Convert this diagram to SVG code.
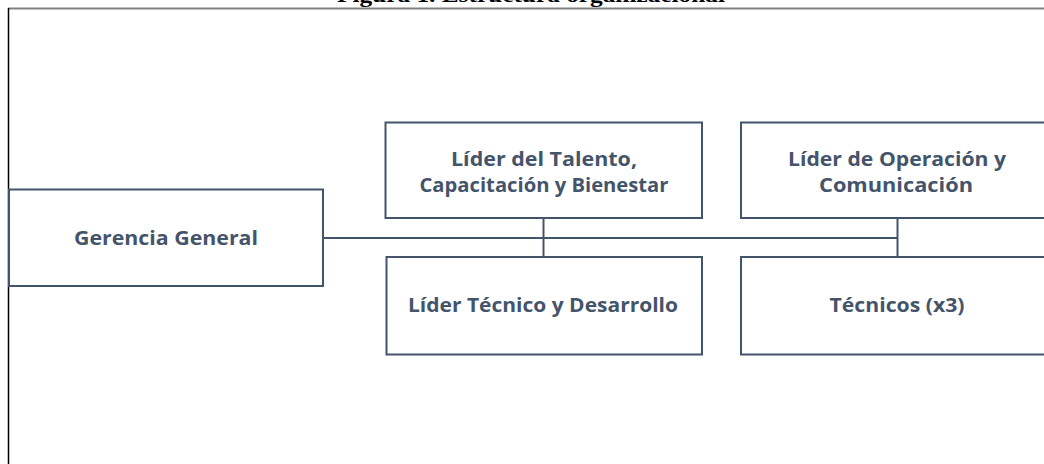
<svg xmlns="http://www.w3.org/2000/svg" width="1044" height="464" viewBox="0 0 1044 464">
<style>
.box{fill:#ffffff;stroke:#44546A;stroke-width:2}
.lbl{font-family:"Open Sans","Liberation Sans",sans-serif;font-weight:700;font-size:19px;fill:#44546A;text-anchor:middle}
.conn{stroke:#44546A;stroke-width:2;fill:none}
.title{font-family:"Liberation Serif",serif;font-weight:700;font-size:20px;fill:#000}
</style>
<rect width="1044" height="464" fill="#ffffff"/>
<text class="title" x="337" y="2" textLength="388" lengthAdjust="spacingAndGlyphs">Figura 1. Estructura organizacional</text>
<line x1="8" y1="8.5" x2="1044" y2="8.5" stroke="#808080" stroke-width="2"/>
<line x1="8.5" y1="8" x2="8.5" y2="464" stroke="#000000" stroke-width="1.5"/>
<g id="connectors">
<line class="conn" x1="323" y1="238" x2="898" y2="238"/>
<line class="conn" x1="543.5" y1="218" x2="543.5" y2="257"/>
<line class="conn" x1="897.5" y1="218" x2="897.5" y2="257"/>
</g>
<g id="gerencia">
<rect class="box" x="9" y="189.5" width="314" height="96.5"/>
<text class="lbl" x="166" y="245" textLength="184" lengthAdjust="spacingAndGlyphs">Gerencia General</text>
</g>
<g id="lider-talento">
<rect class="box" x="385.5" y="122.5" width="316.5" height="95.5"/>
<text class="lbl" x="544" y="165.5" textLength="186" lengthAdjust="spacingAndGlyphs">Líder del Talento,</text>
<text class="lbl" x="544" y="191.5" textLength="249" lengthAdjust="spacingAndGlyphs">Capacitación y Bienestar</text>
</g>
<g id="lider-tecnico">
<rect class="box" x="386.5" y="257" width="315.5" height="97.5"/>
<text class="lbl" x="543" y="312" textLength="270" lengthAdjust="spacingAndGlyphs">Líder Técnico y Desarrollo</text>
</g>
<g id="lider-operacion">
<rect class="box" x="741" y="122.5" width="316" height="95.5"/>
<text class="lbl" x="897" y="165.5" textLength="218" lengthAdjust="spacingAndGlyphs">Líder de Operación y</text>
<text class="lbl" x="896" y="191.5" textLength="154" lengthAdjust="spacingAndGlyphs">Comunicación</text>
</g>
<g id="tecnicos">
<rect class="box" x="741" y="257" width="316" height="97.5"/>
<text class="lbl" x="897" y="312" textLength="135" lengthAdjust="spacingAndGlyphs">Técnicos (x3)</text>
</g>
</svg>
